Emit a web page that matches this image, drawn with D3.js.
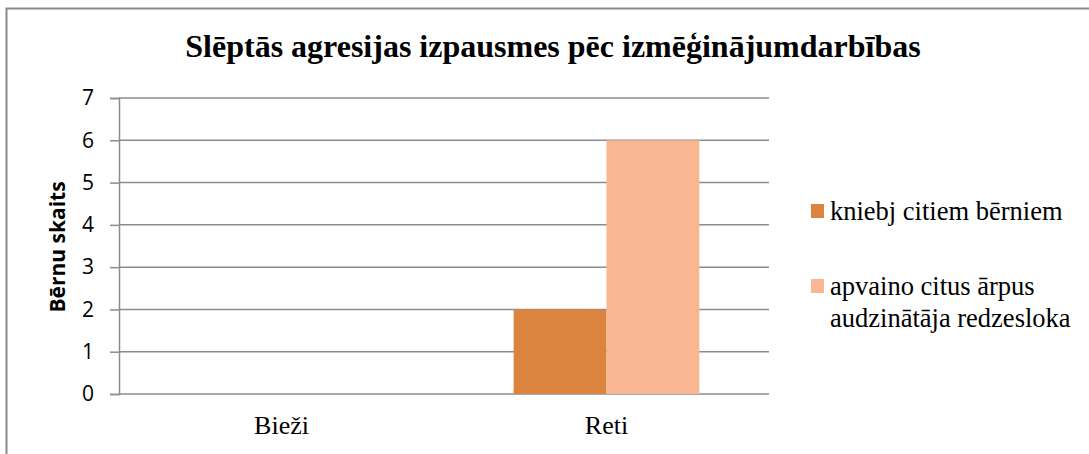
<!DOCTYPE html>
<html>
<head>
<meta charset="utf-8">
<script src="https://cdn.jsdelivr.net/npm/d3@7"></script>
<style>
  body { margin: 0; background: #fff; }
  svg { display: block; }
</style>
</head>
<body>
<div id="chart"></div>
<script>
// data
var categories = ["Bieži", "Reti"];
var seriesNames = ["kniebj citiem bērniem", "apvaino citus ārpus audzinātāja redzesloka"];
var kniebj = [0, 2];
var apvaino = [0, 6];
var yTicks = [0, 1, 2, 3, 4, 5, 6, 7];
var colors = ["#DA843F", "#F8B692"];

var serif = "'Liberation Serif', 'Times New Roman', serif";
var sans = "'Open Sans', 'Noto Sans', sans-serif";

var W = 1089, H = 454;
var margin = {top: 98, right: 320, bottom: 60, left: 119},
  width = W - margin.left - margin.right,
  height = H - margin.top - margin.bottom;

var svg = d3.select("#chart").append("svg")
    .attr("width", W)
    .attr("height", H);

// outer frame (runs off the right and bottom edge)
svg.append("rect")
  .attr("x", 6.5).attr("y", 8.5)
  .attr("width", W + 10).attr("height", H + 10)
  .attr("fill", "none")
  .attr("stroke", "#8a8a8a")
  .attr("stroke-width", 2);

svg.append("text")
  .attr("x", 553).attr("y", 57)
  .attr("text-anchor", "middle")
  .style("font-family", serif)
  .style("font-weight", "bold")
  .style("font-size", "32px")
  .text("Slēptās agresijas izpausmes pēc izmēģinājumdarbības");

var g = svg.append("g")
  .attr("transform", "translate(" + margin.left + "," + margin.top + ")");

var x0 = d3.scaleBand().domain(categories).range([0, width]).paddingInner(0).paddingOuter(0);
var x1 = d3.scaleBand().domain(seriesNames).range([0, x0.bandwidth()]).paddingInner(0).paddingOuter(0.75);
var y = d3.scaleLinear().domain([0, 7]).range([height, 0]);

// gridlines
g.selectAll(".grid")
  .data(yTicks)
  .enter().append("line")
  .attr("x1", 0).attr("x2", width)
  .attr("y1", function(d) { return y(d); })
  .attr("y2", function(d) { return y(d); })
  .attr("stroke", "#8c8c8c")
  .attr("stroke-width", 1.5);

// y axis
var yAxis = g.append("g")
  .call(d3.axisLeft(y).tickValues(yTicks).tickSize(9).tickPadding(16).tickFormat(d3.format("d")));
yAxis.select(".domain").attr("stroke", "#8c8c8c").attr("stroke-width", 1.5);
yAxis.selectAll(".tick line").attr("stroke", "#8c8c8c").attr("stroke-width", 1.5);
yAxis.selectAll("text")
  .style("font-family", sans)
  .style("font-size", "21px")
  .attr("fill", "#000");

// x axis labels
var xAxis = g.append("g")
  .attr("transform", "translate(0," + height + ")")
  .call(d3.axisBottom(x0).tickSize(0).tickPadding(22));
xAxis.select(".domain").remove();
xAxis.selectAll("text")
  .style("font-family", serif)
  .style("font-size", "26px")
  .attr("fill", "#000");

// bars
var rows = categories.map(function(c, i) {
  return {cat: c, vals: [kniebj[i], apvaino[i]]};
});
var groups = g.selectAll(".grp")
  .data(rows)
  .enter().append("g")
  .attr("transform", function(d) { return "translate(" + x0(d.cat) + ",0)"; });
groups.selectAll("rect")
  .data(function(d) { return d.vals.map(function(v, j) { return {name: seriesNames[j], v: v, j: j}; }); })
  .enter().append("rect")
  .attr("x", function(d) { return x1(d.name); })
  .attr("width", x1.bandwidth())
  .attr("y", function(d) { return y(d.v); })
  .attr("height", function(d) { return height - y(d.v); })
  .attr("fill", function(d) { return colors[d.j]; });

// y axis title
svg.append("text")
  .attr("transform", "translate(65,247) rotate(-90)")
  .attr("text-anchor", "middle")
  .style("font-family", sans)
  .style("font-weight", "bold")
  .style("font-size", "21px")
  .text("Bērnu skaits");

// legend
var legendLines = [["kniebj citiem bērniem"], ["apvaino citus ārpus", "audzinātāja redzesloka"]];
var legendY = [204, 279];
var leg = svg.selectAll(".leg")
  .data(legendLines)
  .enter().append("g")
  .attr("transform", function(d, i) { return "translate(811," + legendY[i] + ")"; });
leg.append("rect")
  .attr("width", 13).attr("height", 14)
  .attr("fill", function(d, i) { return colors[i]; });
leg.each(function(lines) {
  var grp = d3.select(this);
  lines.forEach(function(t, i) {
    grp.append("text")
      .attr("x", 19)
      .attr("y", 16 + i * 32)
      .style("font-family", serif)
      .style("font-size", "26.5px")
      .attr("fill", "#000")
      .text(t);
  });
});
</script>
</body>
</html>
